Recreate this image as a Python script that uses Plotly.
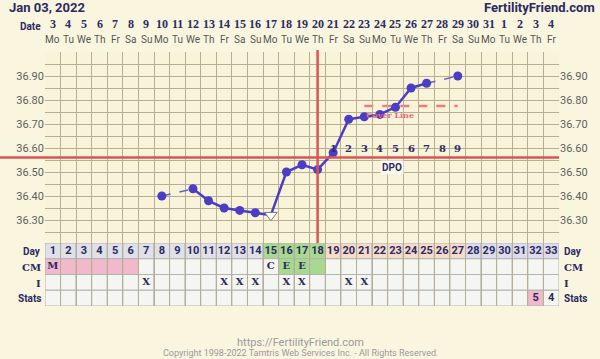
import plotly.graph_objects as go

# ---------------- data ----------------
cycle_days = list(range(1, 34))
date_labels = ["3", "4", "5", "6", "7", "8", "9", "10", "11", "12", "13", "14", "15", "16", "17",
               "18", "19", "20", "21", "22", "23", "24", "25", "26", "27", "28", "29", "30", "31",
               "1", "2", "3", "4"]
weekday_labels = ["Mo", "Tu", "We", "Th", "Fr", "Sa", "Su"] * 4 + ["Mo", "Tu", "We", "Th", "Fr"]

temp_days = [8, 10, 11, 12, 13, 14, 15, 16, 17, 18, 19, 20, 21, 22, 23, 24, 25, 27]
temps = [36.40, 36.43, 36.38, 36.35, 36.34, 36.33, 36.32, 36.50, 36.53, 36.51, 36.58,
         36.72, 36.73, 36.74, 36.77, 36.85, 36.87, 36.90]
open_marker_days = [15]

coverline_temp = 36.56
ovulation_day = 18
cover_dashed_temp = 36.775
cover_dashed_days = [21, 27]
dpo_days = [19, 20, 21, 22, 23, 24, 25, 26, 27]
dpo_labels = ["1", "2", "3", "4", "5", "6", "7", "8", "9"]

temp_ticks = [36.30, 36.40, 36.50, 36.60, 36.70, 36.80, 36.90]
temp_grid = [36.20 + 0.05 * i for i in range(17)]

cm_labels = {1: "M", 15: "C", 16: "E", 17: "E"}
cm_pink_days = [1, 2, 3, 4, 5, 6]
cm_green_days = [16, 17, 18]
intercourse_days = [7, 12, 13, 14, 16, 17, 20, 21]
stats_labels = {32: "5", 33: "4"}
stats_pink_days = [32]

# ---------------- styling ----------------
W, H = 600, 359
BG = "#faf5df"
PLOT_BG = "#f8f3d9"
GRID = "#b5b094"
NAVY = "#2b2a63"
PURPLE = "#4b3ec6"
RED = "#de5454"
CELL = "#f5f5f1"
BORDER = "#b3b3b3"


def px(x):
    return x / W


def py(y):
    return 1 - y / H


def day_phase_color(d):
    if d <= 14:
        return "#dfe0e8"
    if d <= 18:
        return "#a7d98f"
    if d <= 27:
        return "#f7dbca"
    return "#dcdcee"


fig = go.Figure()

# temperature line segments
solid_x, solid_y, dash_x, dash_y = [], [], [], []
for i in range(len(temp_days) - 1):
    d1, d2 = temp_days[i], temp_days[i + 1]
    t1, t2 = temps[i], temps[i + 1]
    if d2 - d1 == 1:
        solid_x += [d1, d2, None]
        solid_y += [t1, t2, None]
    else:
        dash_x += [d1, d2, None]
        dash_y += [t1, t2, None]

fig.add_trace(go.Scatter(x=dash_x, y=dash_y, mode="lines",
                         line=dict(color="#6b63b8", width=1.5, dash="dash"),
                         hoverinfo="skip", showlegend=False))
fig.add_trace(go.Scatter(x=solid_x, y=solid_y, mode="lines",
                         line=dict(color=PURPLE, width=2.5),
                         hoverinfo="skip", showlegend=False))
fd = [d for d in temp_days if d not in open_marker_days]
ft = [t for d, t in zip(temp_days, temps) if d not in open_marker_days]
fig.add_trace(go.Scatter(x=fd, y=ft, mode="markers",
                         marker=dict(color=PURPLE, size=9),
                         showlegend=False))
od = [d for d in temp_days if d in open_marker_days]
ot = [t for d, t in zip(temp_days, temps) if d in open_marker_days]
fig.add_trace(go.Scatter(x=od, y=ot, mode="markers",
                         marker=dict(symbol="triangle-down", color="white", size=11,
                                     line=dict(color="#777777", width=1)),
                         showlegend=False))

# right axis dummy trace
fig.add_trace(go.Scatter(x=[None], y=[None], yaxis="y2", showlegend=False))

shapes = []
# coverline (red horizontal)
shapes.append(dict(type="line", xref="paper", yref="y", x0=0, x1=px(559),
                   y0=coverline_temp, y1=coverline_temp,
                   line=dict(color=RED, width=2.5), layer="above"))
# ovulation line (red vertical)
shapes.append(dict(type="line", xref="x", yref="paper", x0=ovulation_day, x1=ovulation_day,
                   y0=py(243), y1=py(50), line=dict(color=RED, width=2.5), layer="above"))
# dashed pink line
shapes.append(dict(type="line", xref="x", yref="y", x0=cover_dashed_days[0], x1=cover_dashed_days[1],
                   y0=cover_dashed_temp, y1=cover_dashed_temp,
                   line=dict(color="#ef7b7b", width=2.5, dash="dash"), layer="below"))

# table cells: rows Day(3-4), CM(2-3), I(1-2), Stats(0-1)
for d in cycle_days:
    rows = [
        (3, day_phase_color(d)),
        (2, "#f2b9ca" if d in cm_pink_days else ("#a7d98f" if d in cm_green_days else CELL)),
        (1, CELL),
        (0, "#f2b9ca" if d in stats_pink_days else CELL),
    ]
    for r, col in rows:
        shapes.append(dict(type="rect", xref="x", yref="y3", x0=d - 0.5, x1=d + 0.5,
                           y0=r, y1=r + 1, fillcolor=col,
                           line=dict(color=BORDER, width=1), layer="below"))

# table text
fig.add_trace(go.Scatter(x=cycle_days, y=[3.5] * len(cycle_days), xaxis="x", yaxis="y3",
                         mode="text", text=[str(d) for d in cycle_days],
                         textfont=dict(family="Roboto", size=11, color=NAVY, weight="bold"),
                         hoverinfo="skip", showlegend=False))
cm_x = list(cm_labels.keys())
fig.add_trace(go.Scatter(x=cm_x, y=[2.5] * len(cm_x), xaxis="x", yaxis="y3",
                         mode="text", text=[cm_labels[d] for d in cm_x],
                         textfont=dict(family="DejaVu Serif", size=10, color=NAVY, weight="bold"),
                         hoverinfo="skip", showlegend=False))
fig.add_trace(go.Scatter(x=intercourse_days, y=[1.5] * len(intercourse_days), xaxis="x", yaxis="y3",
                         mode="text", text=["X"] * len(intercourse_days),
                         textfont=dict(family="DejaVu Serif", size=10, color=NAVY, weight="bold"),
                         hoverinfo="skip", showlegend=False))
st_x = list(stats_labels.keys())
fig.add_trace(go.Scatter(x=st_x, y=[0.5] * len(st_x), xaxis="x", yaxis="y3",
                         mode="text", text=[stats_labels[d] for d in st_x],
                         textfont=dict(family="Roboto", size=11, color=NAVY, weight="bold"),
                         hoverinfo="skip", showlegend=False))

ann = []
# header
ann.append(dict(text="<b>Jan 03, 2022</b>", x=px(7), y=py(7), xref="paper", yref="paper",
                xanchor="left", yanchor="middle", showarrow=False,
                font=dict(family="Roboto", size=13, color=NAVY)))
ann.append(dict(text="<b>FertilityFriend.com</b>", x=px(597), y=py(7), xref="paper", yref="paper",
                xanchor="right", yanchor="middle", showarrow=False,
                font=dict(family="Roboto", size=13, color=NAVY)))
ann.append(dict(text="<b>Date</b>", x=px(43), y=py(26), xref="paper", yref="paper",
                xanchor="right", yanchor="middle", showarrow=False,
                font=dict(family="Roboto", size=10, color=NAVY)))
for d, lab, wd in zip(cycle_days, date_labels, weekday_labels):
    ann.append(dict(text="<b>" + lab + "</b>", x=d, y=py(24), xref="x", yref="paper",
                    xanchor="center", yanchor="middle", showarrow=False,
                    font=dict(family="Liberation Serif", size=12, color=NAVY)))
    ann.append(dict(text=wd, x=d, y=py(40), xref="x", yref="paper",
                    xanchor="center", yanchor="middle", showarrow=False,
                    font=dict(family="Roboto", size=10, color="#555555")))
# DPO numbers
for d, lab in zip(dpo_days, dpo_labels):
    ann.append(dict(text="<b>" + lab + "</b>", x=d, y=36.60, xref="x", yref="y",
                    xanchor="center", yanchor="middle", showarrow=False,
                    font=dict(family="DejaVu Serif", size=10, color=NAVY)))
ann.append(dict(text="<b>DPO</b>", x=22.8, y=36.52, xref="x", yref="y",
                xanchor="center", yanchor="middle", showarrow=False, bgcolor="#fdfbf0",
                font=dict(family="Roboto", size=10, color=NAVY)))
ann.append(dict(text="<b>Cover Line</b>", x=20.95, y=36.737, xref="x", yref="y",
                xanchor="left", yanchor="middle", showarrow=False,
                font=dict(family="DejaVu Serif", size=8, color="#e86a78")))
# row labels
row_labels = [("Day", 251, "Roboto"), ("CM", 267, "DejaVu Serif"),
              ("I", 283, "DejaVu Serif"), ("Stats", 298, "Roboto")]
for lab, yy, fam in row_labels:
    ann.append(dict(text="<b>" + lab + "</b>", x=px(43), y=py(yy), xref="paper", yref="paper",
                    xanchor="right", yanchor="middle", showarrow=False,
                    font=dict(family=fam, size=10, color=NAVY)))
    ann.append(dict(text="<b>" + lab + "</b>", x=px(562), y=py(yy), xref="paper", yref="paper",
                    xanchor="left", yanchor="middle", showarrow=False,
                    font=dict(family=fam, size=10, color=NAVY)))
# footer
ann.append(dict(text="https://FertilityFriend.com", x=0.5, y=py(342), xref="paper", yref="paper",
                xanchor="center", yanchor="middle", showarrow=False,
                font=dict(family="Roboto", size=11, color="#9a9a9a")))
ann.append(dict(text="Copyright 1998-2022 Tamtris Web Services Inc. - All Rights Reserved.",
                x=0.5, y=py(353), xref="paper", yref="paper",
                xanchor="center", yanchor="middle", showarrow=False,
                font=dict(family="Roboto", size=9, color="#9a9a9a")))

tick_text = ["%.2f" % t for t in temp_ticks]
ydom = [py(244), py(52)]
fig.update_layout(
    width=W, height=H,
    margin=dict(l=0, r=0, t=0, b=0),
    paper_bgcolor=BG, plot_bgcolor=PLOT_BG,
    showlegend=False,
    xaxis=dict(domain=[px(45), px(559)], range=[0.5, 33.5], anchor="y",
               tickvals=[d - 0.5 for d in cycle_days] + [33.5], showticklabels=False,
               showgrid=True, gridcolor=GRID, gridwidth=1, zeroline=False, ticks=""),
    yaxis=dict(domain=ydom, range=[36.20, 37.00], tickvals=temp_ticks, ticktext=tick_text,
               showgrid=True, gridcolor=GRID, gridwidth=1, zeroline=False, ticks="",
               tickfont=dict(family="Roboto", size=11, color="#5e5e5e"),
               minor=dict(tickvals=temp_grid, showgrid=True, gridcolor=GRID, gridwidth=1)),
    yaxis2=dict(domain=ydom, range=[36.20, 37.00], overlaying="y", side="right", anchor="x",
                tickvals=temp_ticks, ticktext=tick_text, showgrid=False, zeroline=False,
                ticks="", tickfont=dict(family="Roboto", size=11, color="#5e5e5e")),
    yaxis3=dict(domain=[py(306), py(243)], range=[0, 4], visible=False, showgrid=False,
                anchor="x"),
    shapes=shapes,
    annotations=ann,
)

fig.write_html("out.html")
